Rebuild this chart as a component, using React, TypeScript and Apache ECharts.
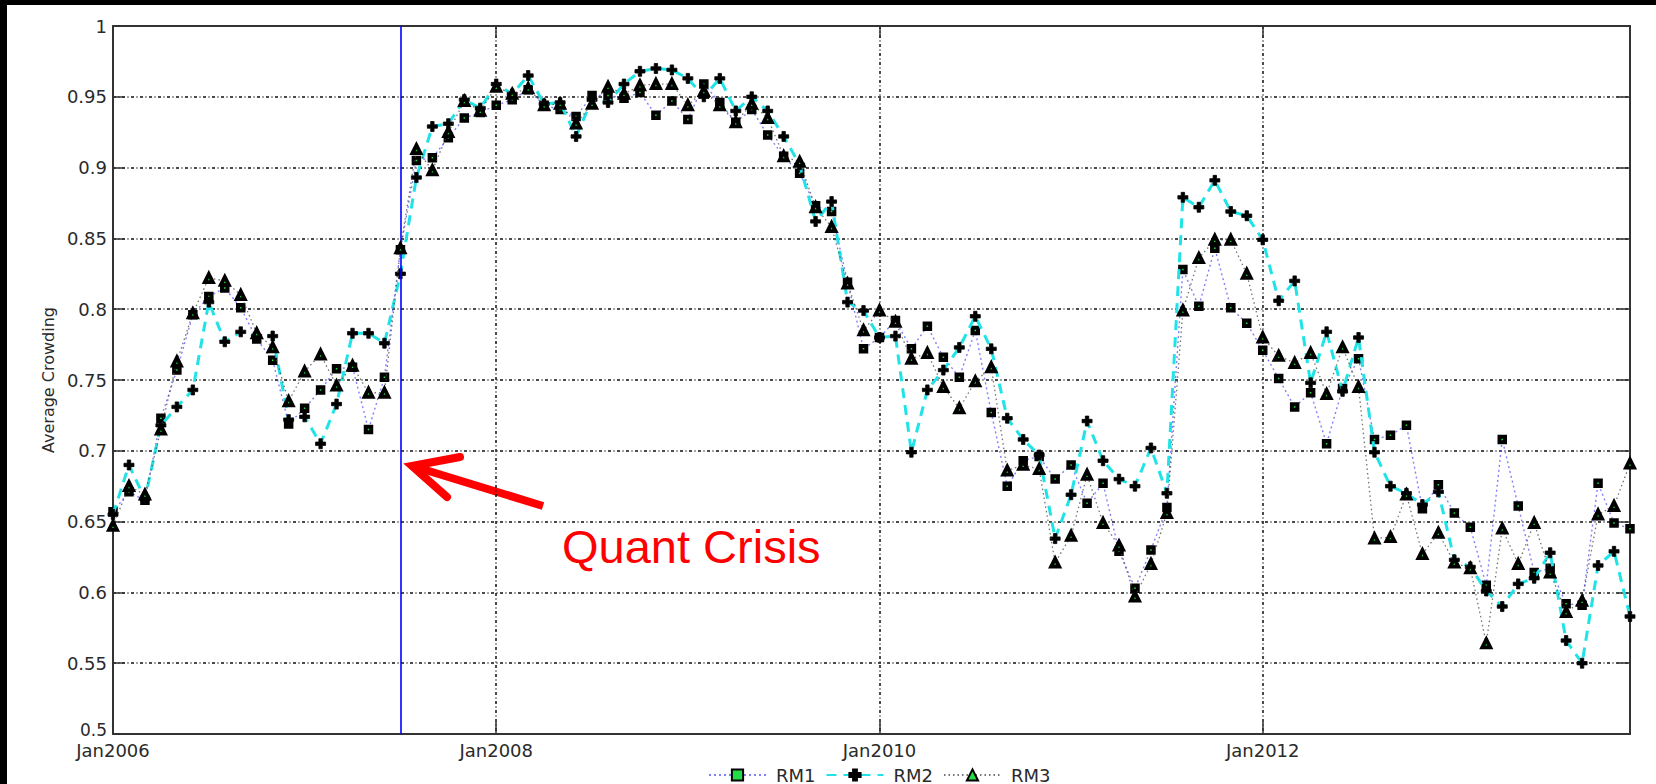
import React, { useEffect, useRef } from "react";
import * as echarts from "echarts";

const years = [2006, 2007, 2008, 2009, 2010, 2011, 2012, 2013];
const monthNames = ["Jan", "Feb", "Mar", "Apr", "May", "Jun", "Jul", "Aug", "Sep", "Oct", "Nov", "Dec"];
const categories: string[] = years.flatMap((y) => monthNames.map((m) => m + y));

const crisisMonth = "Jul2007";
const crisisLabel = "Quant Crisis";
const yAxisName = "Average Crowding";
const seriesNames = ["RM1", "RM2", "RM3"];

const rm1 = [
  0.657, 0.671, 0.665, 0.723, 0.757, 0.796, 0.809, 0.815, 0.801, 0.779, 0.764, 0.719,
  0.730, 0.743, 0.758, 0.759, 0.715, 0.752, 0.842, 0.905, 0.907, 0.921, 0.935, 0.939,
  0.944, 0.948, 0.955, 0.944, 0.941, 0.936, 0.951, 0.951, 0.949, 0.953, 0.937, 0.947,
  0.934, 0.959, 0.946, 0.932, 0.941, 0.923, 0.908, 0.896, 0.873, 0.869, 0.819, 0.772,
  0.780, 0.792, 0.772, 0.788, 0.766, 0.752, 0.785, 0.727, 0.675, 0.693, 0.696, 0.680,
  0.690, 0.663, 0.677, 0.629, 0.603, 0.630, 0.660, 0.828, 0.802, 0.843, 0.801, 0.790,
  0.771, 0.751, 0.731, 0.741, 0.705, 0.744, 0.765, 0.708, 0.711, 0.718, 0.659, 0.676,
  0.656, 0.646, 0.605, 0.708, 0.661, 0.614, 0.617, 0.592, 0.591, 0.677, 0.649, 0.645,
];

const rm2 = [
  0.655, 0.690, 0.666, 0.718, 0.731, 0.743, 0.805, 0.777, 0.784, 0.781, 0.781, 0.722,
  0.724, 0.705, 0.733, 0.783, 0.783, 0.776, 0.825, 0.893, 0.929, 0.931, 0.948, 0.942,
  0.959, 0.952, 0.965, 0.945, 0.946, 0.922, 0.948, 0.946, 0.959, 0.968, 0.970, 0.969,
  0.963, 0.950, 0.963, 0.940, 0.950, 0.940, 0.922, 0.902, 0.862, 0.876, 0.805, 0.799,
  0.780, 0.781, 0.699, 0.743, 0.757, 0.773, 0.795, 0.772, 0.723, 0.708, 0.697, 0.638,
  0.669, 0.721, 0.693, 0.680, 0.675, 0.702, 0.670, 0.879, 0.872, 0.891, 0.869, 0.866,
  0.849, 0.806, 0.820, 0.748, 0.784, 0.742, 0.780, 0.699, 0.675, 0.670, 0.662, 0.671,
  0.623, 0.618, 0.601, 0.590, 0.606, 0.610, 0.628, 0.566, 0.550, 0.619, 0.629, 0.583,
];

const rm3 = [
  0.647, 0.675, 0.669, 0.715, 0.763, 0.797, 0.822, 0.820, 0.810, 0.783, 0.773, 0.735,
  0.756, 0.768, 0.746, 0.760, 0.741, 0.741, 0.843, 0.913, 0.898, 0.925, 0.947, 0.940,
  0.957, 0.952, 0.956, 0.944, 0.945, 0.931, 0.945, 0.957, 0.952, 0.958, 0.959, 0.959,
  0.944, 0.954, 0.944, 0.932, 0.945, 0.935, 0.908, 0.904, 0.872, 0.858, 0.818, 0.785,
  0.799, 0.791, 0.765, 0.769, 0.745, 0.730, 0.749, 0.759, 0.686, 0.690, 0.687, 0.621,
  0.640, 0.683, 0.649, 0.633, 0.597, 0.620, 0.656, 0.799, 0.836, 0.849, 0.849, 0.825,
  0.780, 0.767, 0.762, 0.769, 0.740, 0.773, 0.745, 0.638, 0.639, 0.669, 0.627, 0.642,
  0.621, 0.617, 0.564, 0.645, 0.620, 0.649, 0.614, 0.586, 0.594, 0.655, 0.661, 0.691,
];

const FONT = "DejaVu Sans";
const TXT = "#2a2a2a";
const FRAME = "#333";
const GRID_DASH = [3, 2.5, 1, 2.5];
const plusPath = "path://M3.3,0H6.7V3.3H10V6.7H6.7V10H3.3V6.7H0V3.3H3.3Z";

const isMajor = (i: number) => i % 24 === 0;

export default function App() {
  const ref = useRef<HTMLDivElement>(null);
  useEffect(() => {
    if (!ref.current) return;
    const chart = echarts.init(ref.current, null, { renderer: "svg" });
    const tickStyle = { show: true, inside: true, length: 12, lineStyle: { color: FRAME, width: 1.5 } };
    const axisLine = { show: true, onZero: false, lineStyle: { color: FRAME, width: 2 } };
    chart.setOption({
      animation: false,
      backgroundColor: "#fff",
      grid: { left: 113, right: 26, top: 26, bottom: 50, containLabel: false },
      legend: {
        data: seriesNames,
        left: 703,
        top: 761,
        itemWidth: 57,
        itemHeight: 14,
        itemGap: 10,
        textStyle: { fontFamily: FONT, fontSize: 18, color: TXT, padding: [0, 0, 0, 5] },
      },
      xAxis: [
        {
          type: "category",
          data: categories,
          boundaryGap: false,
          position: "bottom",
          axisLine,
          axisTick: { ...tickStyle, interval: (i: number) => isMajor(i) },
          axisLabel: {
            interval: (i: number) => isMajor(i),
            fontFamily: FONT,
            fontSize: 18,
            color: TXT,
            margin: 7,
          },
          splitLine: {
            show: true,
            interval: (i: number) => isMajor(i) && i > 0,
            lineStyle: { color: "#111", width: 1.5, type: GRID_DASH },
          },
        },
        {
          type: "category",
          data: categories,
          boundaryGap: false,
          position: "top",
          axisLine,
          axisTick: { ...tickStyle, interval: (i: number) => isMajor(i) },
          axisLabel: { show: false },
          splitLine: { show: false },
        },
      ],
      yAxis: [
        {
          type: "value",
          min: 0.5,
          max: 1,
          interval: 0.05,
          position: "left",
          name: yAxisName,
          nameLocation: "middle",
          nameGap: 56,
          nameTextStyle: { fontFamily: FONT, fontSize: 16, color: TXT },
          axisLine,
          axisTick: tickStyle,
          axisLabel: {
            fontFamily: FONT,
            fontSize: 18,
            color: TXT,
            margin: 6,
            formatter: (v: number) => {
              const s = String(parseFloat(v.toFixed(2)));
              return v <= 0.5 ? "{lo|" + s + "}" : s;
            },
            rich: {
              lo: { fontFamily: FONT, fontSize: 17, color: TXT, padding: [0, 0, 9, 0] },
            },
          },
          splitLine: { show: true, lineStyle: { color: "#111", width: 1.5, type: GRID_DASH } },
        },
        {
          type: "value",
          min: 0.5,
          max: 1,
          interval: 0.05,
          position: "right",
          axisLine,
          axisTick: tickStyle,
          axisLabel: { show: false },
          splitLine: { show: false },
        },
      ],
      series: [
        {
          name: "RM1",
          type: "line",
          data: rm1,
          showAllSymbol: true,
          symbol: "rect",
          symbolSize: 5.5,
          itemStyle: { color: "#22dd44", borderColor: "#000", borderWidth: 4 },
          lineStyle: { color: "#5555ff", width: 1.4, type: [2, 3], opacity: 0.75 },
          markLine: {
            silent: true,
            symbol: ["none", "none"],
            label: { show: false },
            lineStyle: { color: "#0000ff", width: 1.6, type: "solid" },
            data: [{ xAxis: crisisMonth }],
          },
          z: 3,
        },
        {
          name: "RM2",
          type: "line",
          data: rm2,
          showAllSymbol: true,
          symbol: plusPath,
          symbolSize: 10,
          itemStyle: { color: "#000", borderColor: "#000", borderWidth: 0.8 },
          lineStyle: { color: "#1fe3e6", width: 3, type: [10, 7] },
          z: 4,
        },
        {
          name: "RM3",
          type: "line",
          data: rm3,
          showAllSymbol: true,
          symbol: "triangle",
          symbolSize: 8,
          itemStyle: { color: "#22dd44", borderColor: "#000", borderWidth: 3.8 },
          lineStyle: { color: "#444", width: 1.3, type: [1.5, 3], opacity: 0.75 },
          z: 5,
        },
      ],
      graphic: [
        { type: "rect", shape: { x: 0, y: 0, width: 1656, height: 5 }, style: { fill: "#000" }, silent: true },
        { type: "rect", shape: { x: 0, y: 0, width: 7, height: 784 }, style: { fill: "#000" }, silent: true },
        {
          type: "line",
          shape: { x1: 543, y1: 506, x2: 414, y2: 466.5 },
          style: { stroke: "#ff0000", lineWidth: 8, lineCap: "butt" },
          silent: true,
        },
        {
          type: "polyline",
          shape: { points: [[460, 457], [412, 466], [447, 497]] },
          style: { stroke: "#ff0000", lineWidth: 8, lineCap: "round", lineJoin: "miter", fill: "none" },
          silent: true,
        },
        {
          type: "text",
          x: 562,
          y: 546,
          style: {
            text: crisisLabel,
            fontFamily: "Liberation Sans",
            fontSize: 47,
            fill: "#ff0000",
            verticalAlign: "middle",
            align: "left",
          },
          silent: true,
        },
      ],
    });
    return () => chart.dispose();
  }, []);
  return <div ref={ref} style={{ position: "absolute", left: 0, top: 0, width: 1656, height: 784 }} />;
}
